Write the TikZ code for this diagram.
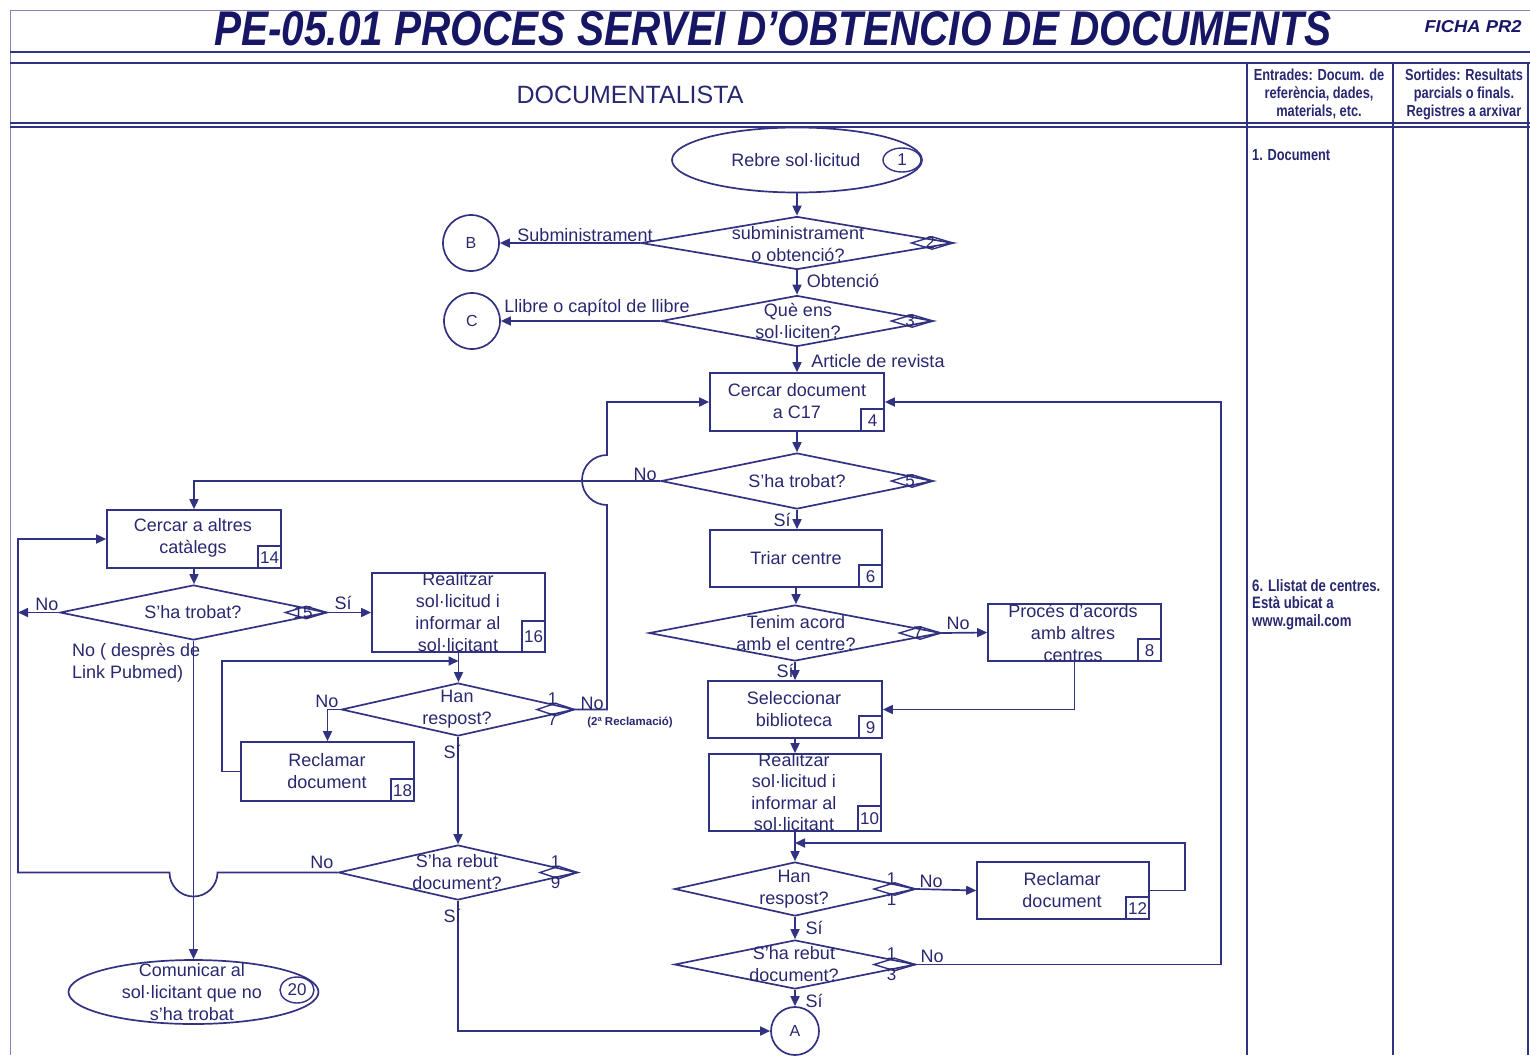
\documentclass[tikz,border=0pt]{standalone}
\usepackage{graphicx}
\usepackage{fontspec}
\setmainfont{Liberation Sans}
\newfontfamily\narrowfont[FakeStretch=0.8]{Liberation Sans}
\usetikzlibrary{shapes.geometric,arrows.meta}
\definecolor{navy}{RGB}{50,50,130}
\definecolor{tnavy}{RGB}{40,40,112}
\definecolor{titlec}{RGB}{22,22,100}
\begin{document}
\begin{tikzpicture}[x=1pt,y=-1pt,
  arr/.style={draw=navy,line width=1.7pt,-{Triangle[length=10pt,width=9pt]}},
  box/.style={draw=navy,line width=1.7pt,rectangle,inner sep=0pt},
  dia/.style={draw=navy,line width=1.7pt,diamond,inner sep=0pt},
  ell/.style={draw=navy,line width=1.7pt,ellipse,inner sep=0pt},
  txt/.style={text=tnavy,font=\fontsize{18}{22}\selectfont,align=center,inner sep=0pt},
  lbl/.style={text=tnavy,font=\fontsize{18}{22}\selectfont,inner sep=0pt},
  numbox/.style={draw=navy,line width=1.4pt,rectangle,inner sep=0pt,minimum width=23pt,minimum height=22pt,text=tnavy,font=\fontsize{17}{20}\selectfont,anchor=south east},
  sdia/.style={draw=navy,line width=1.4pt,diamond,inner sep=0pt,minimum width=42pt,minimum height=13pt,anchor=east},
  sdtxt/.style={text=tnavy,font=\fontsize{17}{21}\selectfont,inner sep=0pt,align=center},
  hdr/.style={text=tnavy,font=\narrowfont\bfseries\fontsize{16}{18}\selectfont,inner sep=0pt,align=center},
  crc/.style={draw=navy,line width=1.7pt,circle,inner sep=0pt,text=tnavy,font=\fontsize{16}{19}\selectfont}
]
\useasboundingbox (0,0) rectangle (1530,1055);
% frame
\draw[navy!60,line width=1pt] (10,1055) -- (10,10) -- (1530,10);
\draw[navy,line width=1.8pt] (10,52) -- (1530,52);
\draw[navy,line width=1.8pt] (10,63) -- (1530,63);
\draw[navy,line width=1.8pt] (10,123) -- (1530,123);
\draw[navy,line width=1.3pt] (10,127) -- (1530,127);
\draw[navy,line width=1.8pt] (1247,63) -- (1247,1055);
\draw[navy,line width=1.8pt] (1393,63) -- (1393,1055);
\draw[navy,line width=1.8pt] (1528,63) -- (1528,1055);
% title
\node[inner sep=0pt,text=titlec] (title) at (773,29) {\resizebox{1117pt}{34pt}{\bfseries\itshape PE-05.01 PROCES SERVEI D’OBTENCIO DE DOCUMENTS}};
\node[inner sep=0pt,text=titlec] (ficha) at (1473,27) {\resizebox{97pt}{12pt}{\bfseries\itshape FICHA PR2}};
% header
\node[txt,font=\fontsize{25}{28}\selectfont] (hdoc) at (630,95) {DOCUMENTALISTA};
\node[hdr] (hin) at (1319,94) {Entrades: Docum. de\\referència, dades,\\materials, etc.};
\node[hdr] (hout) at (1464,94) {Sortides: Resultats\\parcials o finals.\\Registres a arxivar};
\node[hdr,anchor=west] (r1) at (1252,155) {1. Document};
\node[hdr,align=left,anchor=north west,font=\narrowfont\bfseries\fontsize{16.5}{17.5}\selectfont] (r6) at (1252,579) {6. Llistat de centres.\\Està ubicat a\\www.gmail.com};

% ---------- main column ----------
\node[ell,minimum width=250pt,minimum height=65pt] (e1) at (797,160) {};
\node[txt] (e1t) at (796,160) {Rebre sol·licitud};
\node[ell,line width=1.4pt,minimum width=38pt,minimum height=24pt] (e1n) at (902,160) {};
\node[sdtxt] (e1nt) at (902,160) {1};

\node[dia,minimum width=312pt,minimum height=53pt] (d2) at (797,243) {};
\node[txt] (d2t) at (798,244) {subministrament\\o obtenció?};
\node[sdia] (d2s) at (d2.east) {};
\node[sdtxt] (d2n) at ([xshift=-2pt]d2s.center) {2};

\node[crc,minimum size=56pt] (B) at (471,243) {B};
\node[crc,minimum size=56pt] (C) at (472,321) {C};

\node[dia,minimum width=272pt,minimum height=51pt] (d3) at (797,321) {};
\node[txt] (d3t) at (798,321) {Què ens\\sol·liciten?};
\node[sdia] (d3s) at (d3.east) {};
\node[sdtxt] (d3n) at ([xshift=-2pt]d3s.center) {3};

\node[box,minimum width=174pt,minimum height=58pt] (n4) at (797,402) {};
\node[txt] (n4t) at (797,401) {Cercar document\\a C17};
\node[numbox] (n4n) at (n4.south east) {4};

\node[dia,minimum width=272pt,minimum height=56pt] (d5) at (797,481) {};
\node[txt] (d5t) at (797,481) {S'ha trobat?};
\node[sdia] (d5s) at (d5.east) {};
\node[sdtxt] (d5n) at ([xshift=-2pt]d5s.center) {5};

\node[box,minimum width=172pt,minimum height=57pt] (n6) at (796,558.5) {};
\node[txt] (n6t) at (796,558) {Triar centre};
\node[numbox] (n6n) at (n6.south east) {6};

\node[dia,minimum width=292pt,minimum height=56pt] (d7) at (795,633) {};
\node[txt] (d7t) at (796,633) {Tenim acord\\amb el centre?};
\node[sdia] (d7s) at (d7.east) {};
\node[sdtxt] (d7n) at ([xshift=-2pt]d7s.center) {7};

\node[box,minimum width=173pt,minimum height=57pt] (n8) at (1074.5,632.5) {};
\node[txt] (n8t) at (1073,633) {Procés d'acords\\amb altres\\centres};
\node[numbox] (n8n) at (n8.south east) {8};

\node[box,minimum width=174pt,minimum height=57pt] (n9) at (795,709.5) {};
\node[txt] (n9t) at (794,709) {Seleccionar\\biblioteca};
\node[numbox] (n9n) at (n9.south east) {9};

\node[box,minimum width=172pt,minimum height=77pt] (n10) at (795,792.5) {};
\node[txt,font=\fontsize{18}{21.5}\selectfont] (n10t) at (794,792) {Realitzar\\sol·licitud i\\informar al\\sol·licitant};
\node[numbox,minimum height=25pt] (n10n) at (n10.south east) {10};

\node[dia,minimum width=241pt,minimum height=54pt] (d11) at (795,889) {};
\node[txt] (d11t) at (794,889) {Han\\respost?};
\node[sdia] (d11s) at (d11.east) {};
\node[sdtxt] (d11n) at ([xshift=-3pt]d11s.center) {1\\1};

\node[box,minimum width=172pt,minimum height=57pt] (n12) at (1063,890.5) {};
\node[txt] (n12t) at (1062,890) {Reclamar\\document};
\node[numbox] (n12n) at (n12.south east) {12};

\node[dia,minimum width=241pt,minimum height=49pt] (d13) at (795,964.5) {};
\node[txt] (d13t) at (794,964) {S'ha rebut\\document?};
\node[sdia] (d13s) at (d13.east) {};
\node[sdtxt] (d13n) at ([xshift=-3pt]d13s.center) {1\\3};

\node[crc,minimum size=48pt] (A) at (795,1031) {A};

% ---------- left part ----------
\node[box,minimum width=174pt,minimum height=58pt] (n14) at (194,539) {};
\node[txt] (n14t) at (193,538) {Cercar a altres\\catàlegs};
\node[numbox] (n14n) at (n14.south east) {14};

\node[dia,minimum width=267pt,minimum height=55pt] (d15) at (193.5,612.5) {};
\node[txt] (d15t) at (193,612) {S'ha trobat?};
\node[sdia] (d15s) at (d15.east) {};
\node[sdtxt] (d15n) at ([xshift=-3pt]d15s.center) {15};

\node[box,minimum width=173pt,minimum height=79pt] (n16) at (458.5,612.5) {};
\node[txt] (n16t) at (458,612) {Realitzar\\sol·licitud i\\informar al\\sol·licitant};
\node[numbox,minimum height=31pt] (n16n) at (n16.south east) {16};

\node[dia,minimum width=233pt,minimum height=53pt] (d17) at (458,709.5) {};
\node[txt] (d17t) at (457,709) {Han\\respost?};
\node[sdia,minimum width=38pt] (d17s) at (d17.east) {};
\node[sdtxt] (d17n) at ([xshift=-3pt]d17s.center) {1\\7};

\node[box,minimum width=173pt,minimum height=59pt] (n18) at (327.5,771.5) {};
\node[txt] (n18t) at (327,771) {Reclamar\\document};
\node[numbox] (n18n) at (n18.south east) {18};

\node[dia,minimum width=239pt,minimum height=55pt] (d19) at (458,872.5) {};
\node[txt] (d19t) at (457,872) {S'ha rebut\\document?};
\node[sdia,minimum width=38pt] (d19s) at (d19.east) {};
\node[sdtxt] (d19n) at ([xshift=-3pt]d19s.center) {1\\9};

\node[ell,minimum width=250pt,minimum height=64pt] (e20) at (193.5,992) {};
\node[txt] (e20t) at (192,992) {Comunicar al\\sol·licitant que no\\s'ha trobat};
\node[ell,line width=1.4pt,minimum width=34pt,minimum height=26pt] (e20n) at (297,990) {};
\node[sdtxt] (e20nt) at (297,990) {20};

% free-end coordinates
\coordinate (w15) at (18,612.5);
\coordinate (j17) at (458.5,661);

% ---------- connectors ----------
\draw[arr] (e1.south) -- (d2.north);
\draw[arr] (d2.west) -- (B.east);
\draw[arr] (d2.south) -- (d3.north);
\draw[arr] (d3.west) -- (C.east);
\draw[arr] (d3.south) -- (n4.north);
\draw[arr] (n4.south) -- (d5.north);
\draw[arr] (d5.south) -- (d5.south |- n6.north);
\draw[arr] (n6.south) -- (n6.south |- d7.north);
\draw[arr] (d7.east) -- (n8.west);
\draw[arr] (n8.south) |- (n9.east);
\draw[arr] (d7.south) -- (n9.north);
\draw[arr] (n9.south) -- (n10.north);
\draw[arr] (n10.south) -- (d11.north);
\draw[arr] (n12.east) -- (1185,890.5) -- (1185,843) -- (795,843);
\draw[arr] (d11.east) -- (n12.west);
\draw[arr] (d11.south) -- (d13.north);
\draw[arr] (d13.east) -- (1221,964.5) -- (1221,402) -- (n4.east);
\draw[arr] (d13.south) -- (A.north);

\draw[arr] (d5.west) -| (n14.north);
\draw[arr] (d17.east) -- (607,709.5) -- (607,505)
  .. controls (593.2,505) and (582,493.8) .. (582,480)
  .. controls (582,466.2) and (593.2,455) .. (607,455)
  -- (607,402) -- (n4.west);
\draw[arr] (n14.south) -- (n14.south |- d15.north);
\draw[arr] (d15.west) -- (w15);
\draw[arr] (d15.east) -- (n16.west);
\draw[arr] (d15.south) -- (d15.south |- e20.north);
\draw[arr] (n16.south) -- (n16.south |- d17.north);
\draw[arr] (n18.west) -- (222,771.5) -- (222,661) -- (j17);
\draw[arr] (d17.west) -| (n18.north);
\draw[arr] (d17.south) -- (d19.north);
\draw[arr] (d19.west) -- (217.5,872.5)
  .. controls (217.5,885.75) and (206.75,896.5) .. (193.5,896.5)
  .. controls (180.25,896.5) and (169.5,885.75) .. (169.5,872.5)
  -- (18,872.5) -- (18,539) -- (n14.west);
\draw[arr] (d19.south) |- (A.west);

% ---------- labels ----------
\node[lbl] (lsub) at (585,235) {Subministrament};
\node[lbl] (llib) at (597,308) {Llibre o capítol de llibre};
\node[lbl] (lobt) at (843,281) {Obtenció};
\node[lbl] (lart) at (878,361) {Article de revista};
\node[lbl] (lno5) at (645,474) {No};
\node[lbl] (lsi5) at (782,520) {Sí};
\node[lbl] (lno7) at (958,623) {No};
\node[lbl] (lsi7) at (785,671) {Sí};
\node[lbl] (lno11) at (931,881) {No};
\node[lbl] (lsi11) at (814,928) {Sí};
\node[lbl] (lno13) at (932,956) {No};
\node[lbl] (lsi13) at (814,1001) {Sí};
\node[lbl] (lno15) at (47,604) {No};
\node[lbl] (lsi15) at (343,603) {Sí};
\node[lbl,align=left,anchor=north west] (lpub) at (72,643) {No ( desprès de\\Link Pubmed)};
\node[lbl] (lno17) at (327,701) {No};
\node[lbl] (lno17b) at (592,703) {No};
\node[text=tnavy,inner sep=0pt,font=\bfseries\fontsize{11.5}{13}\selectfont] (lrec) at (630,722) {(2ª Reclamació)};
\node[lbl] (lsi17) at (452,752) {Sí};
\node[lbl] (lno19) at (322,862) {No};
\node[lbl] (lsi19) at (452,916) {Sí};
\end{tikzpicture}
\end{document}
